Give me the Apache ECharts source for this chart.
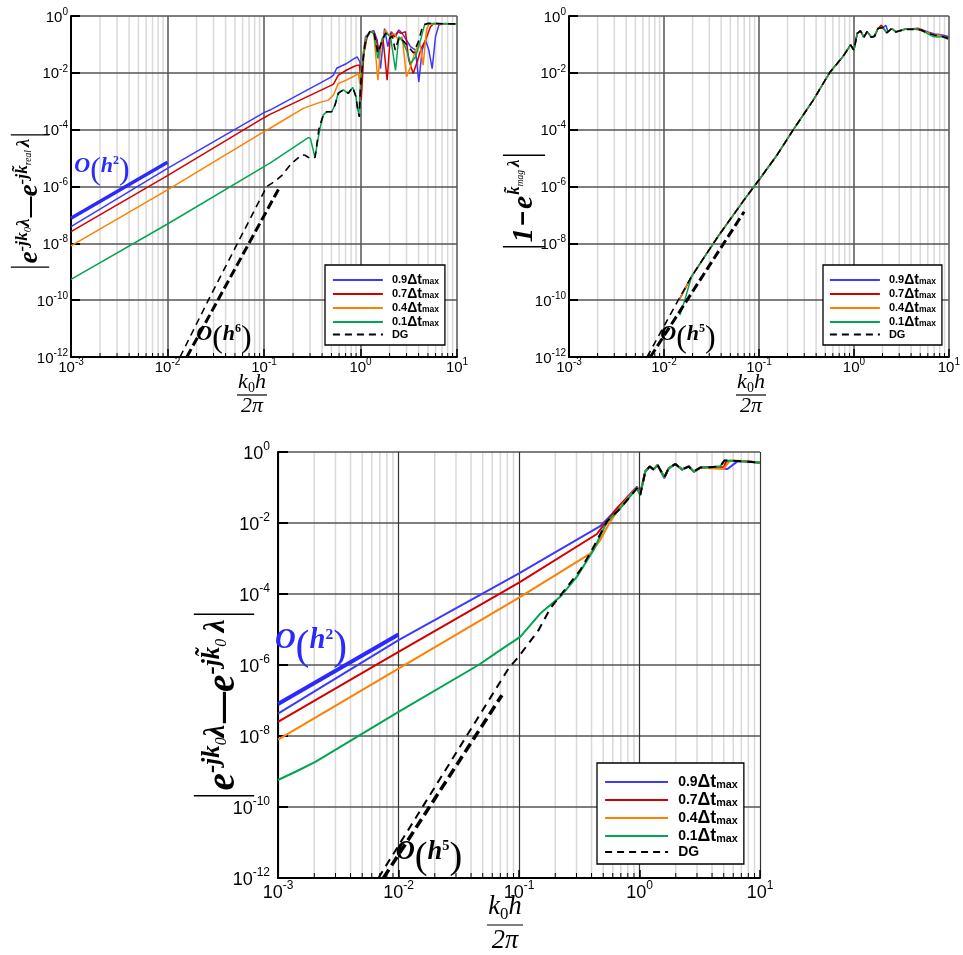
<!DOCTYPE html>
<html>
<head>
<meta charset="utf-8">
<title>Dispersion error vs k0h/2pi</title>
<script src="https://cdn.jsdelivr.net/npm/echarts@6/dist/echarts.min.js"></script>
<style>html,body{margin:0;padding:0;background:#fff;}#chart{width:963px;height:955px;}</style>
</head>
<body>
<div id="chart"></div>
<script>
// ---------------- DATA (pairs: [log10(k0h/2pi), log10(error)]) ----------------
const seriesNames = ['0.9', '0.7', '0.4', '0.1', 'DG'];
const xTickExp = [-3, -2, -1, 0, 1];
const yTickExp = [-12, -10, -8, -6, -4, -2, 0];
const minorMultipliers = [2, 3, 4, 5, 6, 7, 8, 9];

// Panel 1 (top-left)
const p1Blue = [[-3,-7.41],[-2,-5.36],[-1,-3.40],[-0.938,-3.31],[-0.31,-2.16],[-0.28,-2.08],[-0.247,-1.84],[-0.143,-1.67],[-0.074,-1.52],[-0.035,-1.44],[-0.007,-1.61],[0.007,-1.95],[0.052,-0.73],[0.104,-0.55],[0.138,-0.52],[0.173,-0.85],[0.207,-1.85],[0.249,-0.44],[0.283,-1.08],[0.318,-0.55],[0.363,-0.73],[0.397,-0.49],[0.432,-0.61],[0.477,-0.85],[0.518,-1.08],[0.57,-1.2],[0.604,-2.32],[0.639,-1.2],[0.674,-0.85],[0.708,-1.2],[0.743,-1.85],[0.777,-0.73],[0.812,-0.32],[0.864,-0.26],[1.0,-0.28]];
const p1Red = [[-3,-7.59],[-2,-5.62],[-1,-3.58],[-0.938,-3.46],[-0.31,-2.45],[-0.28,-2.40],[-0.23,-2.08],[-0.143,-1.90],[-0.057,-1.76],[-0.012,-1.72],[0.003,-2.2],[0.007,-2.96],[0.035,-1.32],[0.069,-0.73],[0.104,-0.55],[0.145,-0.61],[0.19,-1.2],[0.235,-0.85],[0.276,-2.26],[0.311,-0.61],[0.352,-0.73],[0.387,-0.55],[0.421,-0.61],[0.466,-0.55],[0.5,-1.55],[0.546,-2.02],[0.587,-1.61],[0.629,-1.14],[0.674,-0.85],[0.725,-0.38],[0.76,-0.26],[1.0,-0.28]];
const p1Orange = [[-3,-8.09],[-2,-6.12],[-1,-4.07],[-0.938,-3.95],[-0.593,-3.25],[-0.42,-3.04],[-0.334,-2.96],[-0.28,-2.78],[-0.23,-2.37],[-0.143,-2.25],[-0.074,-2.13],[-0.022,-2.02],[-0.007,-2.38],[0.017,-1.55],[0.052,-0.79],[0.104,-0.55],[0.138,-0.61],[0.18,-2.26],[0.214,-0.96],[0.259,-0.49],[0.304,-0.73],[0.345,-0.61],[0.397,-0.85],[0.432,-0.73],[0.477,-2.14],[0.518,-1.79],[0.57,-1.2],[0.615,-0.96],[0.649,-1.73],[0.684,-0.49],[0.708,-0.28],[1.0,-0.28]];
const p1Green = [[-3,-9.27],[-2,-7.32],[-1,-5.30],[-0.938,-5.18],[-0.541,-4.28],[-0.52,-4.30],[-0.472,-4.97],[-0.42,-3.95],[-0.385,-3.48],[-0.35,-3.37],[-0.298,-3.37],[-0.264,-3.13],[-0.23,-2.70],[-0.178,-2.60],[-0.126,-2.72],[-0.081,-2.51],[-0.047,-2.84],[-0.029,-3.31],[-0.017,-3.43],[0.0,-2.38],[0.021,-1.67],[0.052,-0.85],[0.097,-0.55],[0.138,-0.61],[0.18,-1.49],[0.225,-0.79],[0.269,-0.61],[0.311,-0.73],[0.363,-1.91],[0.397,-0.73],[0.432,-0.85],[0.477,-1.2],[0.518,-1.67],[0.57,-1.44],[0.622,-0.85],[0.663,-0.32],[0.708,-0.26],[1.0,-0.28]];
const p1DG = [[-1.87,-12],[-1.577,-10.0],[-0.972,-6.0],[-0.88,-5.8],[-0.817,-5.62],[-0.713,-5.18],[-0.61,-4.89],[-0.575,-4.90],[-0.523,-5.01],[-0.47,-4.97],[-0.43,-3.95],[-0.385,-3.48],[-0.35,-3.37],[-0.298,-3.37],[-0.264,-3.13],[-0.23,-2.72],[-0.178,-2.60],[-0.126,-2.72],[-0.081,-2.51],[-0.047,-2.84],[-0.029,-3.31],[-0.012,-3.55],[0.0,-2.5],[0.021,-1.67],[0.052,-0.85],[0.1,-0.52],[0.14,-0.6],[0.18,-1.3],[0.225,-0.85],[0.26,-0.6],[0.3,-0.8],[0.33,-0.7],[0.36,-1.2],[0.4,-0.75],[0.45,-0.9],[0.5,-1.1],[0.55,-1.3],[0.6,-0.9],[0.64,-0.4],[0.66,-0.3],[0.7,-0.26],[1.0,-0.28]];
const p1RefH2 = [[-3,-7.12],[-2,-5.15]];
const p1RefH6 = [[-1.80,-12],[-0.834,-6.0]];

// Panel 2 (top-right)
const p2StartBRO = [[-1.832,-9.94]];
const p2StartGreen = [[-1.832,-10.52],[-1.78,-9.99]];
const p2StartDG = [[-2.178,-12],[-1.85,-10.0]];
const p2Lower = [[-1.71,-9.17],[-1.572,-8.47],[-1.433,-7.77],[-1.295,-7.12],[-1.156,-6.47],[-1.0,-5.77],[-0.809,-4.89],[-0.636,-3.99],[-0.428,-2.96],[-0.255,-1.99],[-0.116,-1.43],[-0.035,-1.02],[0,-1.2]];
const p2TailBlue = [[0.035,-0.61],[0.069,-0.52],[0.104,-0.73],[0.139,-0.55],[0.184,-0.75],[0.218,-0.68],[0.253,-0.44],[0.302,-0.42],[0.336,-0.33],[0.36,-0.55],[0.399,-0.44],[0.44,-0.55],[0.537,-0.46],[0.641,-0.46],[0.711,-0.47],[0.78,-0.56],[0.849,-0.63],[0.919,-0.66],[0.995,-0.72]];
const p2TailRed = [[0.035,-0.61],[0.069,-0.52],[0.104,-0.75],[0.139,-0.55],[0.184,-0.75],[0.218,-0.71],[0.253,-0.44],[0.29,-0.32],[0.315,-0.45],[0.347,-0.59],[0.399,-0.44],[0.44,-0.56],[0.537,-0.47],[0.62,-0.45],[0.68,-0.43],[0.711,-0.52],[0.78,-0.6],[0.849,-0.67],[0.919,-0.7],[0.995,-0.76]];
const p2TailOrange = [[0.035,-0.61],[0.069,-0.52],[0.104,-0.75],[0.139,-0.55],[0.184,-0.75],[0.218,-0.71],[0.253,-0.44],[0.302,-0.40],[0.347,-0.59],[0.399,-0.44],[0.44,-0.56],[0.537,-0.47],[0.641,-0.47],[0.711,-0.49],[0.78,-0.6],[0.849,-0.66],[0.919,-0.69],[0.995,-0.8]];
const p2TailGreen = [[0.035,-0.61],[0.069,-0.52],[0.104,-0.75],[0.139,-0.55],[0.184,-0.75],[0.218,-0.71],[0.253,-0.44],[0.302,-0.40],[0.347,-0.59],[0.399,-0.44],[0.44,-0.56],[0.537,-0.47],[0.641,-0.47],[0.711,-0.49],[0.78,-0.63],[0.83,-0.72],[0.88,-0.74],[0.919,-0.72],[0.995,-0.82]];
const p2TailDG = [[0.035,-0.61],[0.069,-0.52],[0.104,-0.75],[0.139,-0.55],[0.184,-0.75],[0.218,-0.71],[0.253,-0.44],[0.302,-0.40],[0.347,-0.59],[0.399,-0.44],[0.44,-0.56],[0.537,-0.47],[0.641,-0.47],[0.711,-0.49],[0.78,-0.61],[0.849,-0.67],[0.919,-0.71],[0.995,-0.79]];
const p2RefH5 = [[-2.144,-12],[-1.156,-6.89]];

// Panel 3 (bottom)
const p3Blue = [[-3,-7.37],[-2,-5.30],[-1,-3.42],[-0.326,-2.09],[-0.243,-1.80],[-0.16,-1.49],[-0.021,-0.98],[0.006,-1.16],[0.048,-0.55],[0.084,-0.40],[0.117,-0.50],[0.15,-0.36],[0.206,-0.74],[0.242,-0.46],[0.297,-0.33],[0.353,-0.5],[0.408,-0.40],[0.45,-0.56],[0.505,-0.44],[0.588,-0.43],[0.671,-0.46],[0.73,-0.48],[0.81,-0.27],[0.9,-0.26],[1.0,-0.30]];
const p3Red = [[-3,-7.60],[-2,-5.63],[-1,-3.68],[-0.353,-2.31],[-0.298,-2.06],[-0.187,-1.59],[-0.021,-1.00],[0.006,-1.18],[0.048,-0.55],[0.084,-0.41],[0.117,-0.49],[0.15,-0.37],[0.206,-0.71],[0.242,-0.46],[0.297,-0.34],[0.353,-0.49],[0.408,-0.41],[0.45,-0.55],[0.505,-0.44],[0.588,-0.43],[0.671,-0.43],[0.70,-0.43],[0.72,-0.26],[0.85,-0.25],[1.0,-0.30]];
const p3Orange = [[-3,-8.10],[-2,-6.10],[-1,-4.10],[-0.409,-2.86],[-0.326,-2.48],[-0.243,-1.96],[-0.16,-1.55],[-0.021,-1.0],[0.006,-1.2],[0.048,-0.55],[0.084,-0.41],[0.117,-0.49],[0.15,-0.37],[0.206,-0.71],[0.242,-0.46],[0.297,-0.34],[0.353,-0.49],[0.408,-0.41],[0.45,-0.55],[0.505,-0.44],[0.588,-0.46],[0.671,-0.47],[0.70,-0.47],[0.75,-0.24],[0.85,-0.25],[1.0,-0.30]];
const p3Green = [[-3,-9.24],[-2.85,-9.0],[-2.69,-8.73],[-2,-7.32],[-1.336,-6.0],[-1.156,-5.58],[-0.99,-5.21],[-0.824,-4.55],[-0.658,-4.08],[-0.519,-3.51],[-0.381,-2.76],[-0.27,-1.96],[-0.16,-1.59],[-0.021,-1.02],[0.006,-1.21],[0.048,-0.55],[0.084,-0.41],[0.117,-0.49],[0.15,-0.37],[0.206,-0.71],[0.242,-0.46],[0.297,-0.34],[0.353,-0.49],[0.408,-0.41],[0.45,-0.55],[0.505,-0.44],[0.588,-0.43],[0.671,-0.40],[0.704,-0.24],[0.8,-0.25],[1.0,-0.30]];
const p3DG = [[-2.167,-12],[-1.087,-6.10],[-1.004,-5.77],[-0.838,-5.02],[-0.741,-4.41],[-0.602,-3.80],[-0.492,-3.33],[-0.395,-2.76],[-0.27,-1.96],[-0.16,-1.59],[-0.021,-1.02],[0.006,-1.21],[0.048,-0.55],[0.084,-0.41],[0.117,-0.49],[0.15,-0.37],[0.206,-0.71],[0.242,-0.46],[0.297,-0.34],[0.353,-0.49],[0.408,-0.41],[0.45,-0.55],[0.505,-0.44],[0.588,-0.43],[0.671,-0.40],[0.704,-0.24],[0.8,-0.25],[1.0,-0.30]];
const p3RefH2 = [[-3,-7.10],[-2,-5.14]];
const p3RefH5 = [[-2.125,-12],[-1.142,-6.85]];

// ---------------- STYLE / LAYOUT ----------------
const C = {b:'#3a3aff', r:'#d40000', o:'#ff8000', g:'#00a651', k:'#000000', ref:'#2a2aff'};
const SANS = 'Liberation Sans';
const SERIF = 'Liberation Serif';
const grids = [
  {left:71, top:16, width:386, height:341},
  {left:569, top:16, width:385, height:341},
  {left:278, top:452, width:482, height:426}
];
const minorX = [];
xTickExp.slice(0, -1).forEach(d => minorMultipliers.forEach(m => minorX.push(d + Math.log10(m))));

function labelRich(big) {
  return big
    ? {b:{fontFamily:SANS, fontSize:18, color:'#000', lineHeight:22, verticalAlign:'bottom'},
       s:{fontFamily:SANS, fontSize:12, color:'#000', lineHeight:10, verticalAlign:'top'}}
    : {b:{fontFamily:SANS, fontSize:15, color:'#000', lineHeight:18, verticalAlign:'bottom'},
       s:{fontFamily:SANS, fontSize:10, color:'#000', lineHeight:8, verticalAlign:'top'}};
}
const fmt = v => '{b|10}{s|' + v + '}';

function xAxisCfg(gi, big) {
  return {gridIndex:gi, type:'value', min:xTickExp[0], max:xTickExp[xTickExp.length-1], interval:1,
    axisLine:{show:true, onZero:false, lineStyle:{color:'#000', width:2}},
    axisTick:{show:true, inside:true, length:8, lineStyle:{color:'#000', width:1.5}},
    axisLabel:{margin: big ? 2 : 0, formatter: fmt, rich: labelRich(big)},
    splitLine:{show:true, lineStyle:{color: big ? '#333' : '#555', width: big ? 1.2 : 1.5}}};
}
function yAxisCfg(gi, big) {
  return {gridIndex:gi, type:'value', min:yTickExp[0], max:yTickExp[yTickExp.length-1], interval:2,
    axisLine:{show:true, onZero:false, lineStyle:{color:'#000', width:2}},
    axisTick:{show:true, inside:true, length: big ? 10 : 9, lineStyle:{color:'#000', width:2}},
    axisLabel:{margin: big ? 8 : 3, formatter: fmt, rich: labelRich(big)},
    splitLine:{show:true, lineStyle:{color:'#555', width:1.5}}};
}
function minorSeries(gi, tickLen) {
  return {type:'custom', xAxisIndex:gi, yAxisIndex:gi, z:-1, silent:true, animation:false,
    data: minorX.map(v => [v]),
    renderItem: (params, api) => {
      const x = api.value(0);
      const top = api.coord([x, yTickExp[yTickExp.length-1]]);
      const bot = api.coord([x, yTickExp[0]]);
      return {type:'group', children:[
        {type:'line', shape:{x1:top[0], y1:top[1], x2:bot[0], y2:bot[1]}, style:{stroke:'#d9d9d9', lineWidth:1.5}},
        {type:'line', shape:{x1:bot[0], y1:bot[1], x2:bot[0], y2:bot[1]-tickLen}, style:{stroke:'#000', lineWidth:1}}
      ]};
    }};
}
function line(name, gi, data, color, width, dash) {
  return {type:'line', name, xAxisIndex:gi, yAxisIndex:gi, data, showSymbol:false, symbol:'none',
    lineStyle:{color, width, type: dash || 'solid'}, itemStyle:{color}, animation:false, silent:true};
}

const series = [
  minorSeries(0, 4), minorSeries(1, 4), minorSeries(2, 5),
  // panel 1
  line('ref1a', 0, p1RefH2, C.ref, 3.5),
  line(seriesNames[0], 0, p1Blue, C.b, 1.5),
  line(seriesNames[1], 0, p1Red, C.r, 1.5),
  line(seriesNames[2], 0, p1Orange, C.o, 1.5),
  line(seriesNames[3], 0, p1Green, C.g, 1.5),
  line(seriesNames[4], 0, p1DG, C.k, 1.6, [7, 5]),
  line('ref1b', 0, p1RefH6, C.k, 3, [9, 4]),
  // panel 2
  line(seriesNames[0], 1, p2StartBRO.concat(p2Lower, p2TailBlue), C.b, 1.5),
  line(seriesNames[1], 1, p2StartBRO.concat(p2Lower, p2TailRed), C.r, 1.5),
  line(seriesNames[2], 1, p2StartBRO.concat(p2Lower, p2TailOrange), C.o, 1.5),
  line(seriesNames[3], 1, p2StartGreen.concat(p2Lower, p2TailGreen), C.g, 1.5),
  line(seriesNames[4], 1, p2StartDG.concat(p2Lower, p2TailDG), C.k, 1.6, [7, 5]),
  line('ref2b', 1, p2RefH5, C.k, 3, [9, 4]),
  // panel 3
  line('ref3a', 2, p3RefH2, C.ref, 4),
  line(seriesNames[0], 2, p3Blue, C.b, 2),
  line(seriesNames[1], 2, p3Red, C.r, 2),
  line(seriesNames[2], 2, p3Orange, C.o, 2),
  line(seriesNames[3], 2, p3Green, C.g, 2),
  line(seriesNames[4], 2, p3DG, C.k, 2, [8, 6]),
  line('ref3b', 2, p3RefH5, C.k, 3.5, [10, 5])
];

function legendRich(big) {
  const f = big ? 1.27 : 1;
  return {
    n:{fontFamily:SANS, fontWeight:'bold', fontSize:11*f, color:'#000', lineHeight:13*f, padding:[0,0,0,4*f]},
    d:{fontFamily:SANS, fontWeight:'bold', fontSize:14*f, color:'#000', lineHeight:13*f},
    s:{fontFamily:SANS, fontWeight:'bold', fontSize:8.5*f, color:'#000', lineHeight:7*f, verticalAlign:'bottom'}
  };
}
function legendCfg(left, top, big, padding) {
  return {show:true, data:seriesNames, orient:'vertical', left, top, padding, itemGap:0,
    itemWidth: big ? 63 : 50, itemHeight: 10, selectedMode:false,
    borderColor:'#000', borderWidth:1.3, backgroundColor:'#fff', borderRadius:0,
    itemStyle:{opacity:0},
    lineStyle:{width: big ? 2.2 : 1.8},
    textStyle:{rich: legendRich(big)},
    formatter: n => n === 'DG' ? '{n|DG}' : '{n|' + n + '}{d|Δt}{s|max}'};
}

// --- math text helpers (graphic) ---
const mctx = document.createElement('canvas').getContext('2d');
function fnt(style, size, fam) { return style + ' ' + size + 'px "' + (fam || SERIF) + '"'; }
// tokens: {t, font, dy, gap, bar}
function mathRow(tokens, cx, cy, rotation, targetLen, color) {
  let x = 0; const children = [];
  const col = color || '#000';
  tokens.forEach(tk => {
    if (tk.bar) {
      children.push({type:'line', shape:{x1:x + tk.w/2, y1:-tk.bar/2, x2:x + tk.w/2, y2:tk.bar/2}, style:{stroke:col, lineWidth:1.3}});
      x += tk.w;
      return;
    }
    mctx.font = tk.font;
    const w = mctx.measureText(tk.t).width;
    children.push({type:'text', x:x, y:tk.dy || 0, style:{text:tk.t, font:tk.font, fill:col, align:'left', verticalAlign:'middle'}});
    x += w + (tk.gap || 0);
  });
  children.forEach(c => {
    if (c.type === 'line') { c.shape.x1 -= x/2; c.shape.x2 -= x/2; } else { c.x -= x/2; }
  });
  const s = targetLen ? targetLen / x : 1;
  return {type:'group', x:cx, y:cy, rotation:rotation || 0, scaleX:s, scaleY:s, silent:true, children};
}
function orderLabel(n, x, y, f, color) {
  return {type:'text', x, y, silent:true, z:10, style:{
    text:'{o|O}{p|(}{h|h}{e|' + n + '}{p|)}', align:'center', verticalAlign:'middle',
    rich:{
      o:{fontFamily:SERIF, fontStyle:'italic', fontWeight:'bold', fontSize:22*f, fill:color, verticalAlign:'top', lineHeight:36*f},
      p:{fontFamily:SERIF, fontSize:32*f, fill:color, verticalAlign:'top', lineHeight:34*f},
      h:{fontFamily:SERIF, fontStyle:'italic', fontWeight:'bold', fontSize:22*f, fill:color, verticalAlign:'top', lineHeight:36*f},
      e:{fontFamily:SERIF, fontWeight:'bold', fontSize:12*f, fill:color, verticalAlign:'top', lineHeight:18*f}
    }}};
}
const IB = 'italic bold';
const titleTL = [
  {bar:40, w:8}, {t:'e', font:fnt(IB,28)}, {t:'-jk', font:fnt(IB,18), dy:-8}, {t:'0', font:fnt('italic',11), dy:-2},
  {t:'λ', font:fnt(IB,20), dy:-6, gap:1}, {t:'—', font:fnt('bold',22,SANS)}, {t:'e', font:fnt(IB,28)},
  {t:'-j', font:fnt(IB,18), dy:-8}, {t:'k̃', font:fnt(IB,18), dy:-8}, {t:'real', font:fnt('italic',10), dy:-2, gap:3},
  {t:'λ', font:fnt(IB,20), dy:-6}, {bar:40, w:8}
];
const titleTR = [
  {bar:40, w:8}, {t:'1', font:fnt(IB,28), gap:2}, {t:'−', font:fnt('bold',24,SANS), gap:2}, {t:'e', font:fnt(IB,28), gap:1},
  {t:'k̃', font:fnt(IB,16), dy:-9}, {t:'mag', font:fnt('italic',9), dy:-3, gap:3}, {t:'λ', font:fnt(IB,16), dy:-9},
  {bar:40, w:8}
];
const titleB = [
  {bar:46, w:8}, {t:'e', font:fnt(IB,30)}, {t:'-jk', font:fnt(IB,19), dy:-9}, {t:'0', font:fnt('italic',12), dy:-2},
  {t:'λ', font:fnt(IB,22), dy:-6, gap:1}, {t:'—', font:fnt('bold',24,SANS)}, {t:'e', font:fnt(IB,30)},
  {t:'-j', font:fnt(IB,19), dy:-9}, {t:'k̃', font:fnt(IB,19), dy:-9}, {t:'0', font:fnt('italic',12), dy:-2, gap:5},
  {t:'λ', font:fnt(IB,22), dy:-6}, {bar:46, w:8}
];
function fraction(cx, yNum, yBar, yDen, halfW, f) {
  const num = mathRow([
    {t:'k', font:fnt('italic', 22*f)}, {t:'0', font:fnt('', 14*f), dy:6*f}, {t:'h', font:fnt('italic', 22*f)}
  ], cx, yNum, 0, 0);
  const den = mathRow([{t:'2', font:fnt('italic', 22*f)}, {t:'π', font:fnt('italic', 22*f)}], cx, yDen, 0, 0);
  return [num,
    {type:'line', silent:true, shape:{x1:cx-halfW, y1:yBar, x2:cx+halfW, y2:yBar}, style:{stroke:'#000', lineWidth:1.2}},
    den];
}

const graphic = [
  orderLabel('2', 102, 173, 1, C.ref),
  orderLabel('6', 224, 341, 1, '#000'),
  orderLabel('5', 688, 341, 1, '#000'),
  orderLabel('2', 311, 650, 1.3, C.ref),
  orderLabel('5', 429, 861, 1.2, '#000'),
  mathRow(titleTL, 30, 201, Math.PI/2, 140),
  mathRow(titleTR, 524, 201, Math.PI/2, 100),
  mathRow(titleB, 224, 705, Math.PI/2, 192),
  ...fraction(252, 382, 395, 406, 15, 1),
  ...fraction(751, 382, 395, 406, 15, 1),
  ...fraction(505, 907, 925, 941, 18, 1.2)
];

const option = {
  backgroundColor:'#fff',
  animation:false,
  grid: grids,
  xAxis: [xAxisCfg(0,false), xAxisCfg(1,false), xAxisCfg(2,true)],
  yAxis: [yAxisCfg(0,false), yAxisCfg(1,false), yAxisCfg(2,true)],
  legend: [
    legendCfg(325, 265, false, [8, 6, 5, 7]),
    legendCfg(823, 265, false, [8, 6, 5, 6]),
    legendCfg(597, 763, true, [10, 6, 5, 7])
  ],
  series,
  graphic
};
const chart = echarts.init(document.getElementById('chart'), null, {renderer:'canvas'});
chart.setOption(option);
</script>
</body>
</html>
